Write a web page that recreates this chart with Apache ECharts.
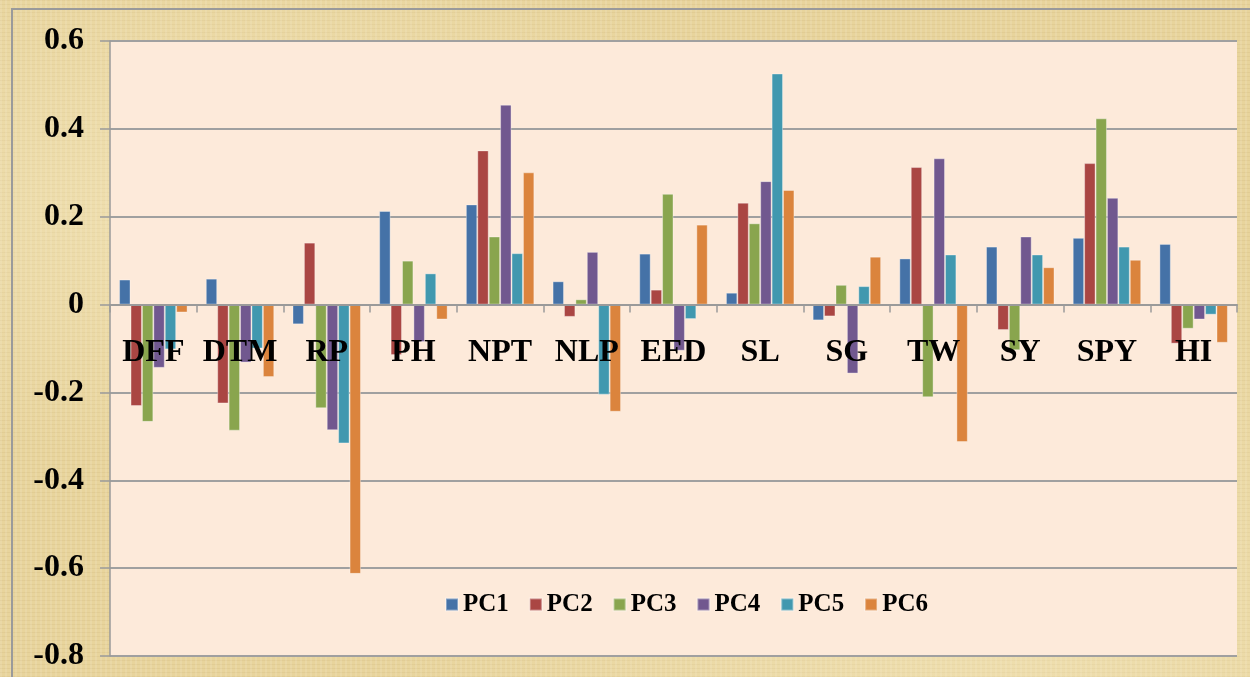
<!DOCTYPE html>
<html>
<head>
<meta charset="utf-8">
<script src="https://cdn.jsdelivr.net/npm/echarts@6/dist/echarts.min.js"></script>
<style>
    html, body {
        margin: 0;
        padding: 0;
    }
    body {
        width: 1250px;
        height: 677px;
        overflow: hidden;
        position: relative;
        background-color: #E8D49C;
        background-image:
            radial-gradient(ellipse at 20% 30%, rgba(255, 248, 220, 0.35), transparent 40%),
            radial-gradient(ellipse at 80% 90%, rgba(255, 248, 220, 0.3), transparent 45%),
            repeating-linear-gradient(90deg, rgba(255, 255, 255, 0.10) 0 2px, transparent 2px 5px),
            repeating-linear-gradient(0deg, rgba(140, 100, 40, 0.07) 0 1px, transparent 1px 4px);
    }
    .frame {
        position: absolute;
        left: 11px;
        top: 8px;
        width: 1260px;
        height: 700px;
        border-left: 2px solid #9a9a9a;
        border-top: 2px solid #9a9a9a;
    }
    #main {
        position: absolute;
        left: 0;
        top: 0;
        width: 1250px;
        height: 677px;
    }
</style>
</head>
<body>
<div class="frame"></div>
<div id="main"></div>
<script>
const categories = ['DFF', 'DTM', 'RP', 'PH', 'NPT', 'NLP', 'EED', 'SL', 'SG', 'TW', 'SY', 'SPY', 'HI'];
const seriesNames = ['PC1', 'PC2', 'PC3', 'PC4', 'PC5', 'PC6'];

const pc1 = [0.057, 0.059, -0.045, 0.213, 0.228, 0.053, 0.116, 0.027, -0.036, 0.105, 0.132, 0.152, 0.138];
const pc2 = [-0.231, -0.225, 0.141, -0.115, 0.351, -0.028, 0.034, 0.232, -0.027, 0.313, -0.058, 0.322, -0.089];
const pc3 = [-0.267, -0.287, -0.236, 0.100, 0.155, 0.012, 0.252, 0.185, 0.045, -0.211, -0.104, 0.424, -0.055];
const pc4 = [-0.144, -0.132, -0.286, -0.085, 0.455, 0.120, -0.105, 0.281, -0.157, 0.333, 0.155, 0.243, -0.034];
const pc5 = [-0.102, -0.100, -0.316, 0.071, 0.117, -0.205, -0.033, 0.526, 0.042, 0.114, 0.114, 0.132, -0.023];
const pc6 = [-0.018, -0.165, -0.613, -0.034, 0.301, -0.244, 0.182, 0.261, 0.109, -0.313, 0.085, 0.102, -0.087];

const colors = ['#4572A7', '#AA4643', '#89A54E', '#71588F', '#4198AF', '#DB843D'];
const values = [pc1, pc2, pc3, pc4, pc5, pc6];

const yMin = -0.8;
const yMax = 0.6;

const serif = 'Liberation Serif, Times New Roman, serif';

// grid box, in px
const gridTop = 41;
const gridBottom = 21;
const gridHeight = 677 - gridTop - gridBottom;
// move the category axis (line, ticks, labels) up to the zero line
const zeroOffset = -gridHeight * (0 - yMin) / (yMax - yMin);

var myChart = echarts.init(document.getElementById('main'));
var option;

option = {
    color: colors,
    animation: false,
    grid: {
        left: 110,
        right: 13,
        top: gridTop,
        bottom: gridBottom,
        outerBoundsMode: 'none',
        containLabel: false,
        show: true,
        backgroundColor: '#FDEADA',
        borderWidth: 0
    },
    legend: {
        left: 440,
        top: 587,
        itemWidth: 12,
        itemHeight: 12,
        itemGap: 20,
        icon: 'rect',
        data: seriesNames,
        textStyle: {
            fontFamily: serif,
            fontWeight: 'bold',
            fontSize: 25,
            color: '#000'
        }
    },
    xAxis: {
        type: 'category',
        data: categories,
        z: 5,
        offset: zeroOffset,
        axisLine: {
            onZero: false,
            lineStyle: { color: '#9a9a9a', width: 2 }
        },
        axisTick: {
            show: true,
            length: 8,
            lineStyle: { color: '#9a9a9a', width: 1.5 }
        },
        axisLabel: {
            margin: 32,
            fontFamily: serif,
            fontWeight: 'bold',
            fontSize: 32,
            color: '#000',
            interval: 0
        }
    },
    yAxis: {
        type: 'value',
        min: yMin,
        max: yMax,
        interval: 0.2,
        axisLine: {
            show: true,
            lineStyle: { color: '#9a9a9a', width: 1.5 }
        },
        axisTick: {
            show: true,
            length: 10,
            lineStyle: { color: '#9a9a9a', width: 1.5 }
        },
        splitLine: {
            lineStyle: { color: '#a0a0a0', width: 2 }
        },
        axisLabel: {
            margin: 26,
            fontFamily: serif,
            fontWeight: 'bold',
            fontSize: 32,
            color: '#000',
            formatter: function (v) { return String(+v.toFixed(1)); }
        }
    },
    series: seriesNames.map(function (name, i) {
        return {
            name: name,
            type: 'bar',
            barGap: '0%',
            barCategoryGap: '21%',
            itemStyle: {
                borderColor: 'rgba(255,255,255,0.35)',
                borderWidth: 1
            },
            data: values[i]
        };
    })
};

option && myChart.setOption(option);
</script>
</body>
</html>
